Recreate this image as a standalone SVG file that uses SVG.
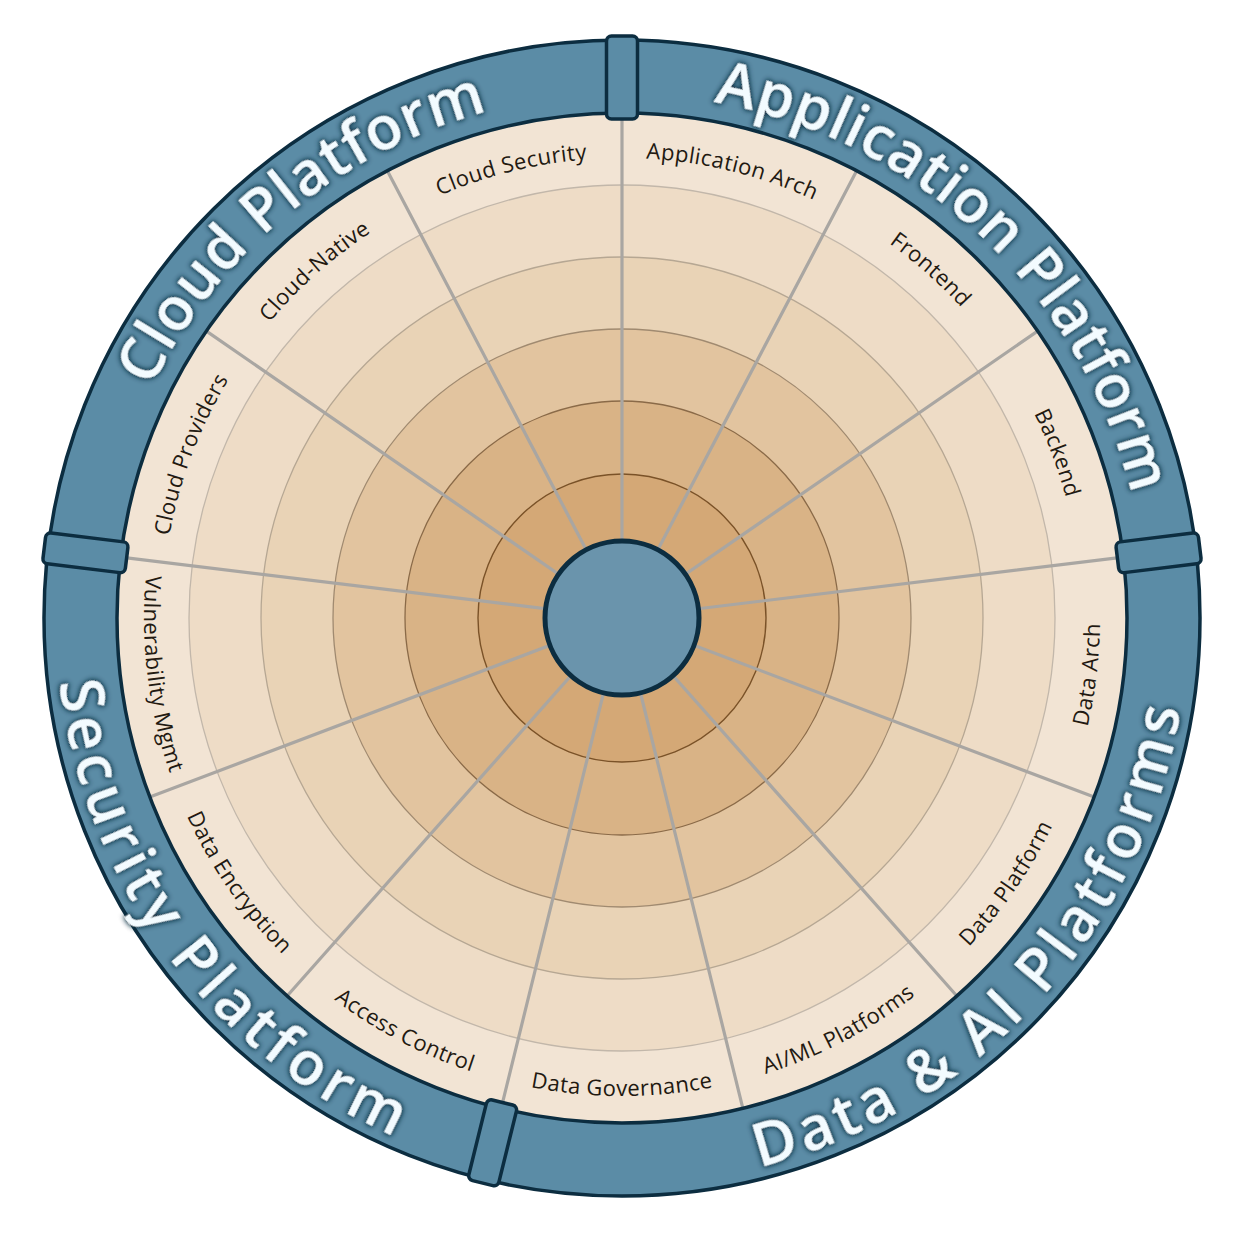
<svg xmlns="http://www.w3.org/2000/svg" width="1258" height="1240" viewBox="0 0 1258 1240">
<defs>
<style>
.spoke{stroke:#a9a6a2;stroke-width:3.2;stroke-linecap:round}
.lbl{font-family:"Open Sans","Noto Sans","Liberation Sans",sans-serif;font-size:22px;fill:#221911;letter-spacing:0.4px}
.cat{font-family:"Open Sans","Noto Sans","Liberation Sans",sans-serif;font-size:60px;font-weight:600;fill:#f3fbff;filter:url(#glow)}
.tab{fill:#5b8ca6;stroke:#0c2d40;stroke-width:3.5}
</style>
<filter id="glow" filterUnits="userSpaceOnUse" x="0" y="0" width="1258" height="1240">
<feMorphology in="SourceAlpha" operator="dilate" radius="1.3" result="d"/>
<feGaussianBlur in="d" stdDeviation="2.6" result="b"/>
<feFlood flood-color="#0a2a3c" flood-opacity="0.95"/>
<feComposite in2="b" operator="in" result="s"/>
<feMerge><feMergeNode in="s"/><feMergeNode in="SourceGraphic"/></feMerge>
</filter>
<path id="lt" d="M223.63,388 A460,460 0 0 1 1020.37,388"/>
<path id="lb" d="M208.04,857 A478,478 0 0 0 1035.96,857"/>
<path id="ct" d="M105.96,527 A524,524 0 0 1 1138.04,527"/>
<path id="cb" d="M64.6,716.29 A566,566 0 0 0 1179.4,716.29"/>
</defs>
<rect width="1258" height="1240" fill="#ffffff"/>
<g id="rings">
<circle cx="622" cy="618" r="505" fill="#f2e4d4"/>
<circle cx="622" cy="618" r="433" fill="#eedcc6" stroke="#c2b7aa" stroke-width="1.3"/>
<circle cx="622" cy="618" r="361" fill="#e9d3b6" stroke="#b6a793" stroke-width="1.3"/>
<circle cx="622" cy="618" r="289" fill="#e2c49f" stroke="#a08a70" stroke-width="1.3"/>
<circle cx="622" cy="618" r="217" fill="#d9b386" stroke="#8a6a48" stroke-width="1.3"/>
<circle cx="622" cy="618" r="144" fill="#d4a876" stroke="#7a5228" stroke-width="1.4"/>
</g>
<g id="connectors">
<line class="spoke" x1="622" y1="618" x2="622" y2="113"/>
<line class="spoke" x1="622" y1="618" x2="856.68" y2="170.84"/>
<line class="spoke" x1="622" y1="618" x2="1037.6" y2="331.12"/>
<line class="spoke" x1="622" y1="618" x2="1123.32" y2="557.13"/>
<line class="spoke" x1="622" y1="618" x2="1094.19" y2="797.07"/>
<line class="spoke" x1="622" y1="618" x2="956.88" y2="996"/>
<line class="spoke" x1="622" y1="618" x2="742.86" y2="1108.32"/>
<line class="spoke" x1="622" y1="618" x2="501.14" y2="1108.32"/>
<line class="spoke" x1="622" y1="618" x2="287.12" y2="996"/>
<line class="spoke" x1="622" y1="618" x2="149.81" y2="797.07"/>
<line class="spoke" x1="622" y1="618" x2="120.68" y2="557.13"/>
<line class="spoke" x1="622" y1="618" x2="206.4" y2="331.12"/>
<line class="spoke" x1="622" y1="618" x2="387.32" y2="170.84"/>
</g>
<g id="hub">
<circle cx="622" cy="618" r="77" fill="#6a94ac" stroke="#0c2d40" stroke-width="5"/>
</g>
<g id="band">
<circle cx="622" cy="618" r="541.5" fill="none" stroke="#5b8ca6" stroke-width="73"/>
<circle cx="622" cy="618" r="505" fill="none" stroke="#0c2d40" stroke-width="3.5"/>
<circle cx="622" cy="618" r="578" fill="none" stroke="#0c2d40" stroke-width="3.5"/>
<rect class="tab" x="606.5" y="36" width="31" height="83" rx="5"/>
<rect class="tab" x="606.5" y="36" width="31" height="83" rx="5" transform="rotate(83.0769 622 618)"/>
<rect class="tab" x="606.5" y="36" width="31" height="83" rx="5" transform="rotate(193.8462 622 618)"/>
<rect class="tab" x="606.5" y="36" width="31" height="83" rx="5" transform="rotate(276.9231 622 618)"/>
</g>
<g id="cat-cloud"><text class="cat" letter-spacing="1" transform="rotate(-39.3 622 618)"><textPath href="#ct" startOffset="50%" text-anchor="middle">Cloud Platform</textPath></text></g>
<g id="cat-application"><text class="cat" letter-spacing="0.5" transform="rotate(43.25 622 618)"><textPath href="#ct" startOffset="50%" text-anchor="middle">Application Platform</textPath></text></g>
<g id="cat-data"><text class="cat" letter-spacing="5" transform="rotate(-47.65 622 618)"><textPath href="#cb" startOffset="50%" text-anchor="middle">Data &amp; AI Platforms</textPath></text></g>
<g id="cat-security"><text class="cat" letter-spacing="5.5" transform="rotate(53.3 622 618)"><textPath href="#cb" startOffset="50%" text-anchor="middle">Security Platform</textPath></text></g>
<g id="seg-application-arch"><text class="lbl" transform="rotate(13.846 622 618)"><textPath href="#lt" startOffset="50%" text-anchor="middle">Application Arch</textPath></text></g>
<g id="seg-frontend"><text class="lbl" transform="rotate(41.538 622 618)"><textPath href="#lt" startOffset="50%" text-anchor="middle">Frontend</textPath></text></g>
<g id="seg-backend"><text class="lbl" transform="rotate(69.231 622 618)"><textPath href="#lt" startOffset="50%" text-anchor="middle">Backend</textPath></text></g>
<g id="seg-data-arch"><text class="lbl" transform="rotate(-83.077 622 618)"><textPath href="#lb" startOffset="50%" text-anchor="middle">Data Arch</textPath></text></g>
<g id="seg-data-platform"><text class="lbl" transform="rotate(-55.385 622 618)"><textPath href="#lb" startOffset="50%" text-anchor="middle">Data Platform</textPath></text></g>
<g id="seg-aiml"><text class="lbl" transform="rotate(-27.692 622 618)"><textPath href="#lb" startOffset="50%" text-anchor="middle">AI/ML Platforms</textPath></text></g>
<g id="seg-data-governance"><text class="lbl"><textPath href="#lb" startOffset="50%" text-anchor="middle">Data Governance</textPath></text></g>
<g id="seg-access-control"><text class="lbl" transform="rotate(27.692 622 618)"><textPath href="#lb" startOffset="50%" text-anchor="middle">Access Control</textPath></text></g>
<g id="seg-data-encryption"><text class="lbl" transform="rotate(55.385 622 618)"><textPath href="#lb" startOffset="50%" text-anchor="middle">Data Encryption</textPath></text></g>
<g id="seg-vulnerability"><text class="lbl" transform="rotate(83.077 622 618)"><textPath href="#lb" startOffset="50%" text-anchor="middle">Vulnerability Mgmt</textPath></text></g>
<g id="seg-cloud-providers"><text class="lbl" transform="rotate(-69.231 622 618)"><textPath href="#lt" startOffset="50%" text-anchor="middle">Cloud Providers</textPath></text></g>
<g id="seg-cloud-native"><text class="lbl" transform="rotate(-41.538 622 618)"><textPath href="#lt" startOffset="50%" text-anchor="middle">Cloud-Native</textPath></text></g>
<g id="seg-cloud-security"><text class="lbl" transform="rotate(-13.846 622 618)"><textPath href="#lt" startOffset="50%" text-anchor="middle">Cloud Security</textPath></text></g>
</svg>
